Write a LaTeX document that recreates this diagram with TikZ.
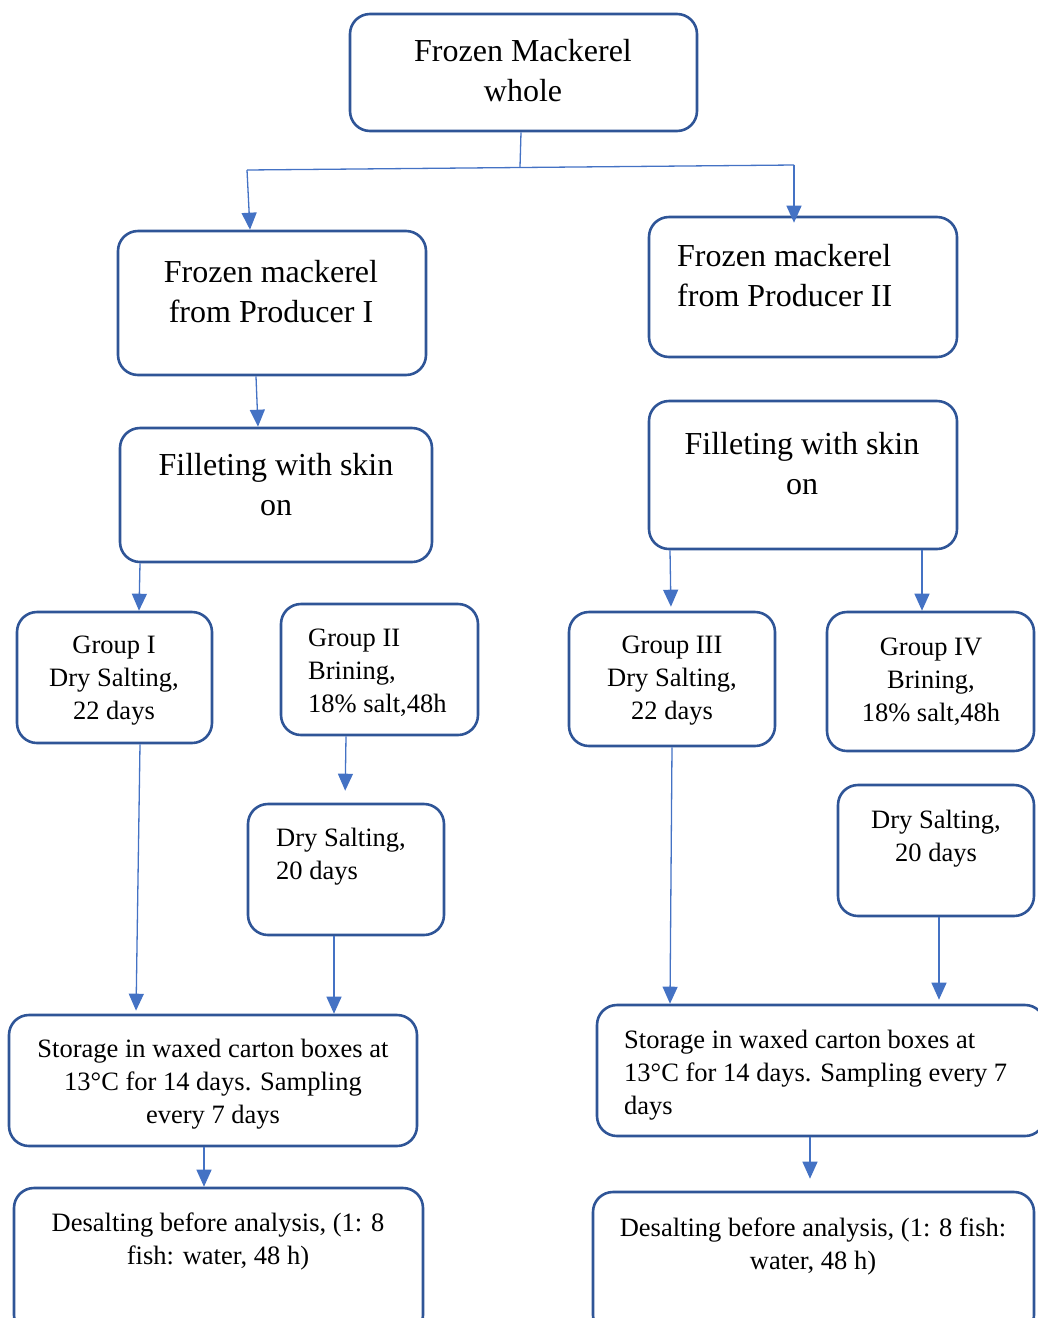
\documentclass[tikz,border=0pt]{standalone}
\usepackage{fontspec}
\setmainfont{Liberation Serif}
\usetikzlibrary{arrows.meta,fit}

\definecolor{boxcolor}{rgb}{0.184000, 0.333000, 0.592000}
\definecolor{arrowcolor}{rgb}{0.267000, 0.447000, 0.769000}

\tikzset{
  flowbox/.style={draw=boxcolor, line width=2.6pt, rounded corners=20pt, inner sep=0pt},
  bigtext/.style={font=\fontsize{32}{40}\selectfont, align=center, inner sep=0pt},
  smalltext/.style={font=\fontsize{26.5}{33}\selectfont, align=center, inner sep=0pt},
  plainline/.style={draw=arrowcolor, line width=1.3pt},
  flowarrow/.style={plainline, -{Triangle[width=15pt,length=17pt]}}
}

\begin{document}
\begin{tikzpicture}[x=1pt,y=-1pt]
\useasboundingbox (0,0) rectangle (1038,1318);

% boxes
\node[flowbox, fit={(350,14) (697,131)}] (top) {};
\node[flowbox, fit={(118,231) (426,375)}] (prodL) {};
\node[flowbox, fit={(649,217) (957,357)}] (prodR) {};
\node[flowbox, fit={(120,428) (432,562)}] (filL) {};
\node[flowbox, fit={(649,401) (957,549)}] (filR) {};
\node[flowbox, fit={(17,612) (212,743)}] (grpI) {};
\node[flowbox, fit={(281,604) (478,735)}] (grpII) {};
\node[flowbox, fit={(248,804) (444,935)}] (dryL) {};
\node[flowbox, fit={(569,612) (775,746)}] (grpIII) {};
\node[flowbox, fit={(827,612) (1034,751)}] (grpIV) {};
\node[flowbox, fit={(838,785) (1034,916)}] (dryR) {};
\node[flowbox, fit={(9,1015) (417,1146)}] (storL) {};
\node[flowbox, fit={(597,1005) (1045,1136)}] (storR) {};
\node[flowbox, fit={(14,1188) (423,1335)}] (desL) {};
\node[flowbox, fit={(593,1192) (1034,1335)}] (desR) {};

% texts
\node[bigtext] (topT) at (523,71) {Frozen Mackerel\\whole};
\node[bigtext] (prodLT) at (271,292) {Frozen mackerel\\from Producer I};
\node[bigtext, anchor=west, align=left] (prodRT) at (677,276) {Frozen mackerel\\from Producer II};
\node[bigtext] (filLT) at (276,485) {Filleting with skin\\on};
\node[bigtext] (filRT) at (802,464) {Filleting with skin\\on};
\node[smalltext] (grpIT) at (114,681) {Group I\\Dry Salting,\\22 days};
\node[smalltext, anchor=west, align=left] (grpIIT) at (308,673) {Group II\\Brining,\\18\% salt,48h};
\node[smalltext, anchor=west, align=left] (dryLT) at (276,857) {Dry Salting,\\20 days};
\node[smalltext] (grpIIIT) at (672,681) {Group III\\Dry Salting,\\22 days};
\node[smalltext] (grpIVT) at (931,682) {Group IV\\Brining,\\18\% salt,48h};
\node[smalltext] (dryRT) at (936,839) {Dry Salting,\\20 days};
\node[smalltext] (storLT) at (213,1084) {Storage in waxed carton boxes at\\13°C for 14 days. Sampling\\every 7 days};
\node[smalltext, anchor=west, align=left] (storRT) at (624,1075) {Storage in waxed carton boxes at\\13°C for 14 days. Sampling every 7\\days};
\node[smalltext] (desLT) at (218,1241) {Desalting before analysis, (1: 8\\fish: water, 48 h)};
\node[smalltext] (desRT) at (813,1246) {Desalting before analysis, (1: 8 fish:\\water, 48 h)};

% connectors
\coordinate (splitM) at (520,167);
\coordinate (splitL) at (247,170);
\coordinate (splitR) at (794,165);
\draw[plainline] ([xshift=-2.5pt]top.south) -- (splitM);
\draw[plainline] (splitL) -- (splitR);
\draw[flowarrow] (splitL) -- ([xshift=-22pt]prodL.north);
\draw[flowarrow, shorten >=-7pt] (splitR) -- ([xshift=-9pt]prodR.north);
\draw[flowarrow] ([xshift=-16pt]prodL.south) -- ([xshift=-18pt]filL.north);
\draw[flowarrow] ([xshift=-136pt]filL.south) -- ([xshift=24.5pt]grpI.north);
\draw[flowarrow, shorten >=12pt] ([xshift=-33.5pt]grpII.south) -- ([xshift=-1pt]dryL.north);
\draw[flowarrow, shorten >=3pt] ([xshift=25.5pt]grpI.south) -- ([xshift=-77pt]storL.north);
\draw[flowarrow] ([xshift=-12pt]dryL.south) -- ([xshift=121pt]storL.north);
\draw[flowarrow, shorten >=4pt] ([xshift=-133pt]filR.south) -- ([xshift=-1pt]grpIII.north);
\draw[flowarrow] ([xshift=119pt]filR.south) -- ([xshift=-8.5pt]grpIV.north);
\draw[flowarrow] (grpIII.south) -- ([xshift=-151pt]storR.north);
\draw[flowarrow, shorten >=4pt] ([xshift=3pt]dryR.south) -- ([xshift=118pt]storR.north);
\draw[flowarrow] ([xshift=-9pt]storL.south) -- ([xshift=-14.5pt]desL.north);
\draw[flowarrow, shorten >=12pt] ([xshift=-11pt]storR.south) -- ([xshift=-3.5pt]desR.north);
\end{tikzpicture}
\end{document}
